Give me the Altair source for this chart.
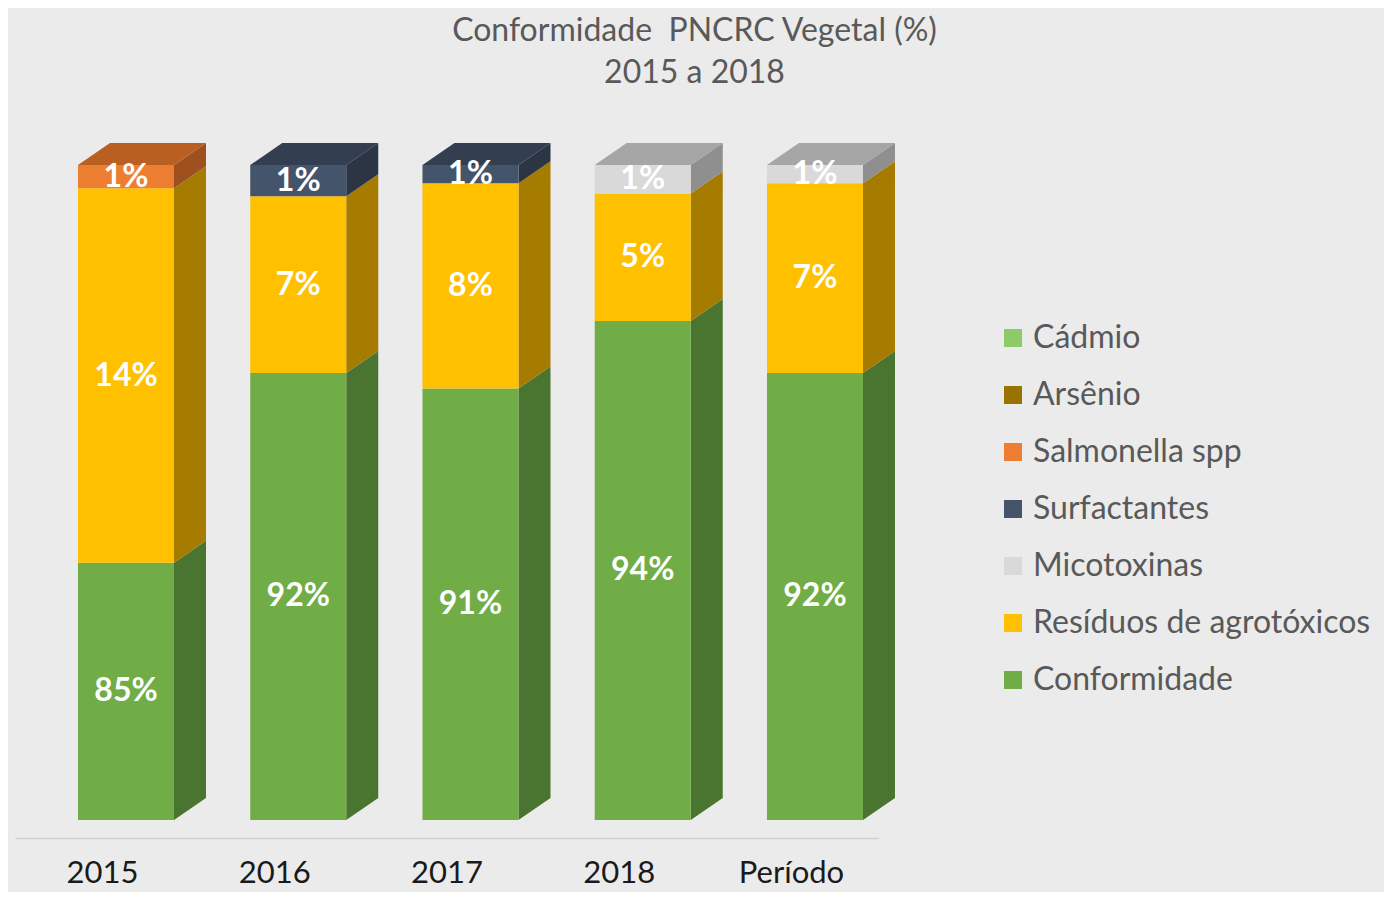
import json
import pandas as pd
import altair as alt

# ---------------- data ----------------
categories = ["2015", "2016", "2017", "2018", "Período"]
conformidade = [84.7, 92.0, 91.4, 94.0, 92.0]
residuos = [14.4, 6.8, 7.9, 4.9, 7.3]
micotoxinas = [0.0, 0.0, 0.0, 1.1, 0.7]
surfactantes = [0.0, 1.2, 0.7, 0.0, 0.0]
salmonella = [0.9, 0.0, 0.0, 0.0, 0.0]
arsenio = [0.0, 0.0, 0.0, 0.0, 0.0]
cadmio = [0.0, 0.0, 0.0, 0.0, 0.0]

series_names = ["Conformidade", "Resíduos de agrotóxicos", "Micotoxinas",
                "Surfactantes", "Salmonella spp", "Arsênio", "Cádmio"]
series_values = [conformidade, residuos, micotoxinas, surfactantes,
                 salmonella, arsenio, cadmio]
legend_order = list(reversed(series_names))

front_colors = {"Conformidade": "#70ad47", "Resíduos de agrotóxicos": "#ffc000",
                "Micotoxinas": "#d9d9d9", "Surfactantes": "#44546a",
                "Salmonella spp": "#ed7d31", "Arsênio": "#997300", "Cádmio": "#8fca6a"}
side_colors = {"Conformidade": "#4a7530", "Resíduos de agrotóxicos": "#a67c00",
               "Micotoxinas": "#8f8f8f", "Surfactantes": "#2b3544",
               "Salmonella spp": "#9e511e", "Arsênio": "#6b5000", "Cádmio": "#5f8a46"}
top_colors = {"Conformidade": "#5a8d38", "Resíduos de agrotóxicos": "#c79600",
              "Micotoxinas": "#a6a6a6", "Surfactantes": "#333f50",
              "Salmonella spp": "#b95f22", "Arsênio": "#806000", "Cádmio": "#74a857"}

# ---------------- 3D geometry (style) ----------------
BASE = 74.8            # value at the bottom of the bars (axis minimum)
Y_MIN, Y_MAX = 74.107, 102.50
X_MIN, X_MAX = -0.6444, 4.3659
HALF = 0.2787          # half bar width (x units)
DX = 0.1858            # depth in x units
DY = 0.8465            # depth in y units

front, side, top, labels = [], [], [], []
for i, cat in enumerate(categories):
    acc = 0.0
    last = None
    for name, vals in zip(series_names, series_values):
        v = vals[i]
        if v <= 0:
            continue
        start = acc
        acc += v
        y0 = BASE if start == 0 else start
        y1 = acc
        key = f"{cat}-{name}"
        front.append({"x": i - HALF, "x2": i + HALF, "y": y0, "y2": y1, "series": name})
        side.append({"key": key, "x": i + HALF, "y": y0, "y2": y1, "c": side_colors[name]})
        side.append({"key": key, "x": i + HALF + DX, "y": y0 + DY, "y2": y1 + DY,
                     "c": side_colors[name]})
        labels.append({"x": i, "ym": (y0 + y1) / 2, "label": f"{round(v)}%"})
        last = (name, y1)
    name, ytop = last
    key = f"{cat}-top"
    top.append({"key": key, "y": ytop, "x": i - HALF, "x2": i + HALF, "c": top_colors[name]})
    top.append({"key": key, "y": ytop + DY, "x": i - HALF + DX, "x2": i + HALF + DX,
                "c": top_colors[name]})

front_df = pd.DataFrame(front)
side_df = pd.DataFrame(side)
top_df = pd.DataFrame(top)
label_df = pd.DataFrame(labels)

FONT = "Lato"
xs = alt.Scale(domain=[X_MIN, X_MAX], nice=False, zero=False)
ys = alt.Scale(domain=[Y_MIN, Y_MAX], nice=False, zero=False)
label_expr = "%s[datum.value]" % json.dumps(categories, ensure_ascii=False)
x_axis = alt.Axis(values=list(range(len(categories))), labelExpr=label_expr,
                  ticks=False, grid=False, domainColor="#d0d0d0", domainWidth=1.5,
                  labelFont=FONT, labelFontSize=31, labelColor="#1a1a1a",
                  labelPadding=20, labelOffset=-24, labelFlush=False,
                  labelOverlap=False, title=None)

side_layer = alt.Chart(side_df).mark_area(strokeWidth=0).encode(
    x=alt.X("x:Q", scale=xs, axis=x_axis),
    y=alt.Y("y:Q", scale=ys, axis=None, stack=None),
    y2="y2:Q",
    detail="key:N",
    fill=alt.Fill("c:N", scale=None),
)

top_layer = alt.Chart(top_df).mark_area(orient="horizontal", strokeWidth=0).encode(
    y=alt.Y("y:Q", scale=ys, axis=None),
    x=alt.X("x:Q", scale=xs, axis=x_axis, stack=None),
    x2="x2:Q",
    detail="key:N",
    fill=alt.Fill("c:N", scale=None),
)

front_layer = alt.Chart(front_df).mark_rect().encode(
    x=alt.X("x:Q", scale=xs, axis=x_axis),
    x2="x2:Q",
    y=alt.Y("y:Q", scale=ys, axis=None),
    y2="y2:Q",
    color=alt.Color("series:N",
                    scale=alt.Scale(domain=legend_order,
                                    range=[front_colors[n] for n in legend_order]),
                    legend=alt.Legend(orient="none", legendX=982, legendY=222,
                                      title=None, symbolType="square", symbolSize=324,
                                      symbolStrokeWidth=0, labelFont=FONT,
                                      labelFontSize=32, labelColor="#595959",
                                      labelOffset=4, rowPadding=25, padding=0,
                                      labelLimit=600)),
)

text_layer = alt.Chart(label_df).mark_text(
    font=FONT, fontSize=32, fontWeight="bold", color="white"
).encode(
    x=alt.X("x:Q", scale=xs, axis=x_axis),
    y=alt.Y("ym:Q", scale=ys, axis=None),
    text="label:N",
)

chart = alt.layer(side_layer, top_layer, front_layer, text_layer).properties(
    width=863, height=738,
    autosize=alt.AutoSizeParams(type="none"),
    padding={"left": 7, "top": 92, "right": 506, "bottom": 54},
    background="#ebebeb",
    title=alt.TitleParams(text=["Conformidade\u00a0 PNCRC Vegetal (%)", "2015 a 2018"],
                          font=FONT, fontSize=32, fontWeight="normal",
                          color="#595959", anchor="middle", frame="group",
                          dx=248, offset=10, lineHeight=42),
).configure_view(stroke=None)

chart.save("out.html", embed_options={"renderer": "svg", "actions": False})
